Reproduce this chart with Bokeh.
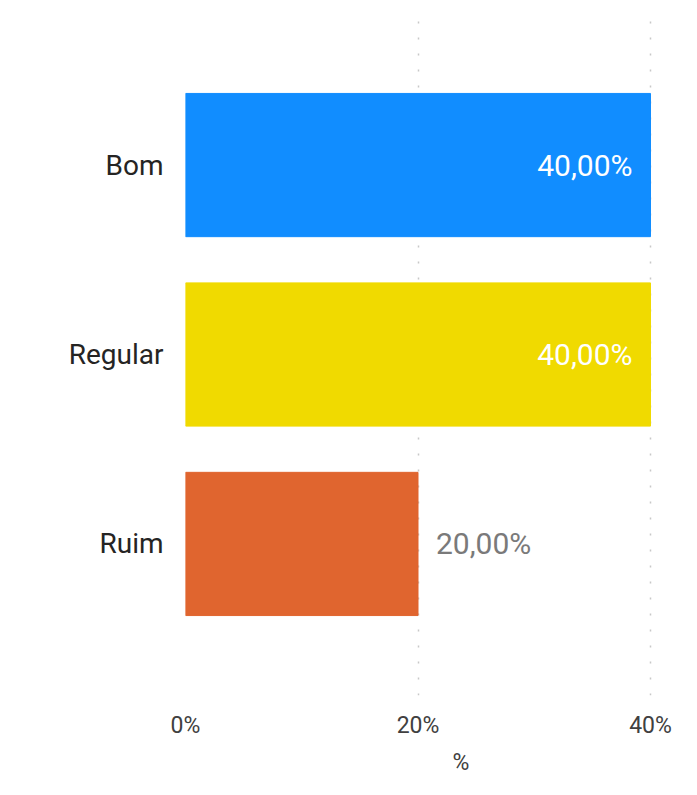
from bokeh.plotting import figure
from bokeh.models import (ColumnDataSource, FactorRange, Range1d, FixedTicker,
                          PrintfTickFormatter, Title)
from bokeh.core.properties import value
from bokeh.embed import file_html
from bokeh.resources import INLINE

categories = ["Bom", "Regular", "Ruim"]
percent_values = [40.0, 40.0, 20.0]
bar_colors = ["#118DFF", "#F0DA00", "#E0652F"]
x_ticks = [0, 20, 40]
x_title = "%"

FONT = "Roboto"

labels = [f"{v:.2f}".replace(".", ",") + "%" for v in percent_values]
inside = [v >= 30 for v in percent_values]

src = ColumnDataSource(dict(cat=categories, val=percent_values, color=bar_colors))
src_in = ColumnDataSource(dict(
    cat=[c for c, i in zip(categories, inside) if i],
    val=[v for v, i in zip(percent_values, inside) if i],
    lab=[l for l, i in zip(labels, inside) if i]))
src_out = ColumnDataSource(dict(
    cat=[c for c, i in zip(categories, inside) if not i],
    val=[v for v, i in zip(percent_values, inside) if not i],
    lab=[l for l, i in zip(labels, inside) if not i]))

p = figure(width=681, height=780,
           y_range=FactorRange(*reversed(categories), range_padding=0.2),
           x_range=Range1d(0, 40.43),
           output_backend="svg", toolbar_location=None,
           min_border_left=185, min_border_right=26,
           min_border_top=13, min_border_bottom=81)
p.outline_line_color = None
p.background_fill_color = "white"
p.border_fill_color = "white"

p.hbar(y="cat", right="val", left=0, height=0.756, color="color", source=src)

p.text(x="val", y="cat", text="lab", source=src_in, x_offset=-18,
       text_align="right", text_baseline="middle", text_color="white",
       text_font=value(FONT), text_font_size="30px")
p.text(x="val", y="cat", text="lab", source=src_out, x_offset=18,
       text_align="left", text_baseline="middle", text_color="#7a7a7a",
       text_font=value(FONT), text_font_size="30px")

# y axis
p.yaxis.axis_line_color = None
p.yaxis.major_tick_line_color = None
p.yaxis.minor_tick_line_color = None
p.yaxis.major_tick_out = 0
p.yaxis.major_label_standoff = 22
p.yaxis.major_label_text_font = FONT
p.yaxis.major_label_text_font_size = "28px"
p.yaxis.major_label_text_color = "#252423"
p.ygrid.grid_line_color = None

# x axis
p.xaxis.ticker = FixedTicker(ticks=x_ticks)
p.xaxis.formatter = PrintfTickFormatter(format="%d%%")
p.xaxis.axis_line_color = None
p.xaxis.major_tick_line_color = None
p.xaxis.minor_tick_line_color = None
p.xaxis.major_tick_out = 0
p.xaxis.major_label_standoff = 16
p.xaxis.major_label_text_font = FONT
p.xaxis.major_label_text_font_size = "23px"
p.xaxis.major_label_text_color = "#404040"

p.xgrid.ticker = FixedTicker(ticks=x_ticks)
p.xgrid.grid_line_color = "#c8c8c8"
p.xgrid.grid_line_dash = "2 14"
p.xgrid.grid_line_width = 1.5

t = Title(text=x_title, align="left", offset=267, text_font=FONT,
          text_font_size="23px", text_font_style="normal", text_color="#404040",
          standoff=10)
p.add_layout(t, "below")

open("out.html", "w").write(file_html(p, INLINE))
